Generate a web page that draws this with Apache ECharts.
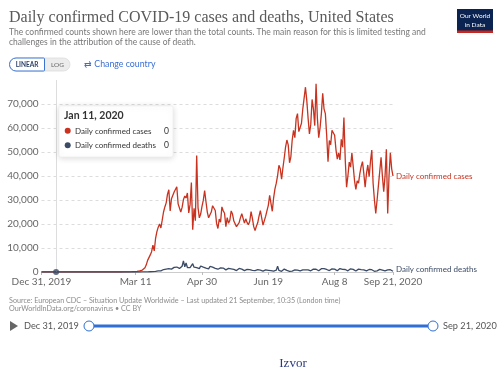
<!DOCTYPE html>
<html><head><meta charset="utf-8">
<style>html,body{margin:0;padding:0;background:#fff;}#c{width:503px;height:374px;}</style>
<script src="https://cdn.jsdelivr.net/npm/echarts@6/dist/echarts.min.js"></script>
</head><body><div id="c"></div>
<script>
// ---- data (daily values, Dec 31 2019 .. Sep 21 2020) ----
const casesDec = [0];
const casesJan = [0,0,0,0,0,0,0,0,0,0, 0,0,0,0,0,0,0,0,0,0, 1,0,0,1,1,3,0,0,0,0, 1];
const casesFeb = [1,0,1,0,0,0,0,0,0,0, 0,0,1,0,1,0,0,0,0,0, 0,19,0,0,0,0,0,0,1];
const casesMar = [7,23,19,33,77,53,166,116,75,187, 271,287,351,511,777,823,887,1766,2988,4835, 5374,7123,8459,11236,8789,13963,16797,18695,19979,18360, 21595];
const casesApr = [24998,27103,28819,32425,34272,25398,30561,30613,33323,33901, 35527,28391,27620,25023,26922,30148,31667,30833,32922,24601, 28065,37289,17588,26543,21352,48529,26857,22541,24132,27326];
const casesMay = [29917,33955,29288,24972,22593,23841,24980,27620,26906,25612, 20258,18117,22048,20782,27143,25508,24487,18873,22630,20289, 21551,25434,24147,21236,20568,18910,19064,20602,22658,24266, 23473];
const casesJun = [20350,22153,20578,19699,21140,25178,22314,18905,17250,19056, 20486,23300,25559,25540,19543,18957,23265,25559,27762,31960, 31577,25293,30917,34640,37014,40184,44473,43006,38673,43341];
const casesJul = [47500,52074,55000,53000,45500,48000,55000,59000,56000,64000, 66000,58500,59000,62000,68000,68600,77000,71500,64000,57500, 61500,71900,68000,61000,78400,64000,56000,60000,66000,74500, 68000];
const casesAug = [66000,57000,46000,54800,53000,59000,58000,57000,51000,47000, 49600,46700,55300,52000,64400,46700,35300,40000,45800,43700, 49700,44000,38000,34400,38000,37000,41000,44000,46000,41000, 35300];
const casesSep = [41000,44600,39700,46000,50800,37000,30000,24400,30000,36000, 42000,47800,40000,33500,40000,51100,24400,40000,49700,43000, 40000];

const deathsDec = [0];
const deathsJan = [0,0,0,0,0,0,0,0,0,0, 0,0,0,0,0,0,0,0,0,0, 0,0,0,0,0,0,0,0,0,0, 0];
const deathsFeb = [0,0,0,0,0,0,0,0,0,0, 0,0,0,0,0,0,0,0,0,0, 0,0,0,0,0,0,0,0,1];
const deathsMar = [1,5,1,3,1,2,3,2,4,4, 5,3,7,10,7,12,21,27,42,50, 56,109,107,168,238,269,424,430,539,473, 744];
const deathsApr = [1034,1041,1219,1312,1393,1241,1208,1866,1941,1939, 2071,1960,1505,1534,2405,4591,2127,3770,1856,1772, 1857,2524,3500,2000,2600,1800,1200,1400,2500,2200];
const deathsMay = [2000,1900,1600,1150,1300,2300,2200,2000,1700,1500, 800,1150,1800,1700,1750,1650,1150,900,1000,1500, 1550,1300,1250,1100,600,600,1000,1500,1200,1200, 950];
const deathsJun = [600,750,1100,1050,1000,950,700,350,600,1000, 950,900,750,700,350,400,850,750,700,650, 550,300,400,850,750,2450,650,550,300,400];
const deathsJul = [1200,700,650,600,300,350,400,950,850,850, 800,700,450,400,900,950,900,900,900,500, 500,1100,1200,1100,1150,1000,500,600,1400,1300, 1400];
const deathsAug = [1300,1050,500,600,1250,1300,1250,1200,1000,500, 550,1450,1450,1100,1250,1050,450,500,1300,1350, 1100,1100,1000,400,450,1200,1150,1000,1050,900, 400];
const deathsSep = [500,1050,1050,900,950,700,300,300,450,1150, 1100,1000,800,350,500,1200,900,850,950,650, 300];

const tickDays = [0, 71, 121, 171, 221, 265];
const tickLabels = ['Dec 31, 2019', 'Mar 11', 'Apr 30', 'Jun 19', 'Aug 8', 'Sep 21, 2020'];
const hoverDay = 11;

// ---- build ----
const cases = [].concat(casesDec, casesJan, casesFeb, casesMar, casesApr, casesMay, casesJun, casesJul, casesAug, casesSep);
const deaths = [].concat(deathsDec, deathsJan, deathsFeb, deathsMar, deathsApr, deathsMay, deathsJun, deathsJul, deathsAug, deathsSep);
const monthNames = ['Jan','Feb','Mar','Apr','May','Jun','Jul','Aug','Sep','Oct','Nov','Dec'];
const categories = cases.map((_, i) => {
  const d = new Date(2019, 11, 31 + i);
  return monthNames[d.getMonth()] + ' ' + d.getDate() + ', ' + d.getFullYear();
});

const RED = '#c8321f', NAVY = '#3b4b66', BLUE = '#2f6fd6';
const FONT = 'Lato, "Noto Sans", sans-serif';
const SERIF = '"Liberation Serif", "DejaVu Serif", serif';
const tickInterval = (idx) => tickDays.indexOf(idx) >= 0;

const chart = echarts.init(document.getElementById('c'), null, { renderer: 'canvas' });
const txt = (text, x, y, font, fill, align) => ({
  type: 'text', silent: true,
  style: { text, x, y, font, fill, textAlign: align || 'left', textVerticalAlign: 'middle' }
});

chart.setOption({
  animation: false,
  backgroundColor: '#fff',
  title: {
    text: 'Daily confirmed COVID-19 cases and deaths, United States',
    subtext: 'The confirmed counts shown here are lower than the total counts. The main reason for this is limited testing and\nchallenges in the attribution of the cause of death.',
    left: 9, top: 10, padding: 0, itemGap: 1,
    textStyle: { fontFamily: SERIF, fontSize: 16, fontWeight: 'normal', color: '#5a5a5a', lineHeight: 16 },
    subtextStyle: { fontFamily: FONT, fontSize: 8.5, color: '#777', lineHeight: 10 }
  },
  grid: { left: 41.5, right: 110, top: 80, bottom: 102 },
  xAxis: {
    type: 'category', data: categories, boundaryGap: false,
    axisLine: { lineStyle: { color: '#ccc' } },
    axisTick: { show: true, interval: tickInterval, length: 3, lineStyle: { color: '#bbb' } },
    axisLabel: {
      interval: tickInterval, color: '#666', fontFamily: FONT, fontSize: 10, margin: 5,
      formatter: (v, idx) => tickLabels[tickDays.indexOf(idx)] || ''
    },
    splitLine: { show: false }
  },
  yAxis: {
    type: 'value', min: 0, max: 80000, interval: 10000,
    axisLine: { show: false }, axisTick: { show: false },
    axisLabel: { color: '#666', fontFamily: FONT, fontSize: 10, margin: 3, showMaxLabel: false,
      formatter: (v) => v.toLocaleString('en-US') },
    splitLine: { showMaxLine: false, lineStyle: { type: [3, 3], color: '#dcdcdc', width: 1 } }
  },
  series: [
    {
      name: 'Daily confirmed cases', type: 'line', data: cases, showSymbol: false, z: 3,
      lineStyle: { color: RED, width: 1.3 }, itemStyle: { color: RED },
      endLabel: { show: true, formatter: '{a}', color: RED, fontFamily: FONT, fontSize: 8, distance: 3 },
      markLine: { silent: true, symbol: 'none', label: { show: false },
        lineStyle: { color: '#dddddd', type: 'solid', width: 1 },
        data: [{ xAxis: categories[hoverDay] }] }
    },
    {
      name: 'Daily confirmed deaths', type: 'line', data: deaths, showSymbol: false, z: 4,
      lineStyle: { color: NAVY, width: 1.3 }, itemStyle: { color: NAVY },
      endLabel: { show: true, formatter: '{a}', color: NAVY, fontFamily: FONT, fontSize: 8, distance: 3, offset: [0, -2] }
    },
    {
      name: 'hover', type: 'scatter', data: [[hoverDay, deaths[hoverDay]]], symbolSize: 6, z: 5,
      itemStyle: { color: NAVY }, silent: true
    }
  ],
  graphic: [
    // logo
    { type: 'rect', shape: { x: 457, y: 9, width: 36, height: 24 }, style: { fill: '#0b2350' } },
    { type: 'rect', shape: { x: 457, y: 30.5, width: 36, height: 2.5 }, style: { fill: '#c8261e' } },
    txt('Our World', 475, 16, '6.5px ' + FONT, '#fff', 'center'),
    txt('in Data', 475, 24.5, '6.5px ' + FONT, '#fff', 'center'),
    // linear/log toggle
    { type: 'rect', shape: { x: 9.5, y: 58, width: 60.5, height: 13, r: 6.5 }, style: { fill: '#ececec', stroke: '#dcdcdc', lineWidth: 0.8 } },
    { type: 'rect', shape: { x: 9.5, y: 58, width: 35, height: 13, r: [6.5, 1, 1, 6.5] }, style: { fill: '#fff', stroke: '#3c74d2', lineWidth: 1 } },
    txt('LINEAR', 27, 65, 'bold 6.5px ' + FONT, '#2b3f66', 'center'),
    txt('LOG', 57.5, 65, '6.5px ' + FONT, '#666', 'center'),
    txt('\u21c4 Change country', 84, 64.5, '8.8px ' + FONT, '#3b6fd4'),
    // tooltip box
    { type: 'rect', shape: { x: 59, y: 106, width: 114, height: 51, r: 2 },
      style: { fill: '#fff', stroke: '#ececec', lineWidth: 0.6, shadowBlur: 6, shadowColor: 'rgba(0,0,0,0.15)', shadowOffsetY: 1 }, z: 100 },
    Object.assign(txt(categories[hoverDay], 64, 116, 'bold 10.5px ' + FONT, '#333'), { z: 101 }),
    { type: 'circle', shape: { cx: 67.7, cy: 130.7, r: 3 }, style: { fill: RED }, z: 101 },
    Object.assign(txt('Daily confirmed cases', 75, 131, '8px ' + FONT, '#333'), { z: 101 }),
    Object.assign(txt(String(cases[hoverDay]), 164, 131, '8.5px ' + FONT, '#333'), { z: 101 }),
    { type: 'circle', shape: { cx: 67.7, cy: 145.3, r: 3 }, style: { fill: NAVY }, z: 101 },
    Object.assign(txt('Daily confirmed deaths', 75, 145.5, '8px ' + FONT, '#333'), { z: 101 }),
    Object.assign(txt(String(deaths[hoverDay]), 164, 145.5, '8.5px ' + FONT, '#333'), { z: 101 }),
    // source
    txt('Source: European CDC \u2013 Situation Update Worldwide \u2013 Last updated 21 September, 10:35 (London time)', 9, 300.7, '7.2px ' + FONT, '#8c8c8c'),
    txt('OurWorldInData.org/coronavirus \u2022 CC BY', 9, 309, '7.2px ' + FONT, '#8c8c8c'),
    // timeline
    { type: 'polygon', shape: { points: [[10, 321], [10, 331], [18, 326]] }, style: { fill: '#666' } },
    txt(tickLabels[0], 24, 326, '9.2px ' + FONT, '#555'),
    { type: 'rect', shape: { x: 89, y: 324.5, width: 344, height: 3 }, style: { fill: BLUE } },
    { type: 'circle', shape: { cx: 89, cy: 326, r: 5 }, style: { fill: '#fff', stroke: BLUE, lineWidth: 1 } },
    { type: 'circle', shape: { cx: 433, cy: 326, r: 5 }, style: { fill: '#fff', stroke: BLUE, lineWidth: 1 } },
    txt(tickLabels[5], 443, 326, '9.2px ' + FONT, '#555'),
    // footer
    txt('Izvor', 293, 364, '13px ' + SERIF, '#2b3a7e', 'center'),
    txt(cases.length === 266 && deaths.length === 266 ? '' : ('LEN ' + cases.length + '/' + deaths.length), 200, 40, '12px ' + FONT, '#f00')
  ]
});
</script></body></html>
